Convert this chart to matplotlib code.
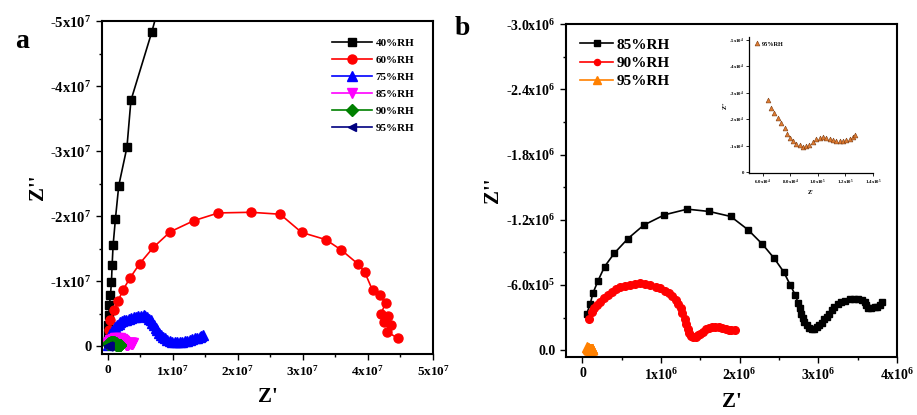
import numpy as np
import matplotlib
matplotlib.use("Agg")
import matplotlib.pyplot as plt
from matplotlib.ticker import FixedLocator, MultipleLocator

plt.rcParams['font.family'] = ['Liberation Serif', 'DejaVu Serif']
plt.rcParams['font.weight'] = 'bold'
plt.rcParams['mathtext.fontset'] = 'custom'
plt.rcParams['mathtext.rm'] = 'Liberation Serif:bold'
plt.rcParams['mathtext.it'] = 'Liberation Serif:bold'
plt.rcParams['mathtext.bf'] = 'Liberation Serif:bold'

# ---- panel a data (units of 1e7 ohm) ----
a40_re = np.array([0.0, 0.0, 0.005, 0.015, 0.025, 0.04, 0.056, 0.066, 0.081, 0.117,
                   0.168, 0.294, 0.355, 0.675, 0.83]) * 1e7
a40_im = np.array([-0.09, -0.19, -0.32, -0.48, -0.63, -0.78, -0.99, -1.245, -1.55, -1.96,
                   -2.47, -3.06, -3.78, -4.83, -5.4]) * 1e7

a60_re = np.array([0.0, 0.015, 0.04, 0.09, 0.157, 0.23, 0.345, 0.49, 0.70, 0.96,
                   1.32, 1.70, 2.20, 2.65, 2.98, 3.35, 3.59, 3.84, 3.95, 4.07,
                   4.18, 4.27, 4.20, 4.31, 4.24, 4.36, 4.30, 4.46]) * 1e7
a60_im = np.array([-0.09, -0.25, -0.40, -0.55, -0.69, -0.86, -1.055, -1.27, -1.52, -1.76,
                   -1.93, -2.05, -2.06, -2.03, -1.75, -1.64, -1.48, -1.27, -1.14, -0.86,
                   -0.78, -0.66, -0.50, -0.47, -0.37, -0.33, -0.22, -0.12]) * 1e7

a75_re = np.array([0.0, 0.02, 0.04, 0.065, 0.09, 0.115, 0.14, 0.165, 0.19, 0.22,
                   0.25, 0.285, 0.32, 0.36, 0.40, 0.435, 0.47, 0.51, 0.55, 0.575,
                   0.60, 0.63, 0.66, 0.685, 0.71, 0.735, 0.76, 0.785, 0.81, 0.845,
                   0.88, 0.915, 0.95, 0.99, 1.03, 1.07, 1.11, 1.145, 1.18, 1.22,
                   1.26, 1.30, 1.34, 1.375, 1.41, 1.44, 1.47]) * 1e7
a75_im = np.array([-0.015, -0.11, -0.19, -0.23, -0.27, -0.295, -0.32, -0.345, -0.37, -0.385,
                   -0.40, -0.41, -0.425, -0.435, -0.45, -0.455, -0.46, -0.47, -0.475, -0.465,
                   -0.45, -0.425, -0.40, -0.36, -0.32, -0.285, -0.25, -0.21, -0.17, -0.145,
                   -0.12, -0.10, -0.08, -0.07, -0.067, -0.067, -0.067, -0.07, -0.077, -0.085,
                   -0.09, -0.105, -0.12, -0.13, -0.14, -0.155, -0.17]) * 1e7

# ---- panel b data (units of 1e6 ohm) ----
b85_re = np.array([0.055, 0.098, 0.132, 0.196, 0.281, 0.404, 0.579, 0.779, 1.043, 1.332,
                   1.609, 1.885, 2.106, 2.289, 2.438, 2.557, 2.643, 2.706, 2.745, 2.765,
                   2.779, 2.80, 2.821, 2.85, 2.885, 2.92, 2.949, 2.98, 3.013, 3.045,
                   3.077, 3.11, 3.140, 3.17, 3.204, 3.245, 3.289, 3.34, 3.396, 3.45,
                   3.502, 3.55, 3.587, 3.61, 3.630, 3.67, 3.715, 3.75, 3.779, 3.809]) * 1e6
b85_im = -np.array([0.338, 0.425, 0.523, 0.637, 0.769, 0.892, 1.028, 1.151, 1.246, 1.298,
                    1.277, 1.231, 1.108, 0.975, 0.846, 0.723, 0.600, 0.508, 0.431, 0.385,
                    0.338, 0.30, 0.262, 0.23, 0.206, 0.198, 0.200, 0.212, 0.231, 0.255,
                    0.283, 0.31, 0.338, 0.37, 0.400, 0.425, 0.440, 0.455, 0.468, 0.472,
                    0.468, 0.458, 0.446, 0.42, 0.385, 0.385, 0.394, 0.40, 0.415, 0.446]) * 1e6

b90_re = np.array([0.089, 0.119, 0.15, 0.183, 0.225, 0.268, 0.32, 0.374, 0.43, 0.481,
                   0.545, 0.609, 0.67, 0.736, 0.80, 0.864, 0.93, 0.991, 1.045, 1.098,
                   1.14, 1.183, 1.215, 1.247, 1.27, 1.298, 1.32, 1.340, 1.36, 1.383,
                   1.41, 1.438, 1.465, 1.494, 1.53, 1.566, 1.61, 1.651, 1.69, 1.736,
                   1.78, 1.821, 1.86, 1.894, 1.936]) * 1e6
b90_im = -np.array([0.292, 0.354, 0.385, 0.415, 0.448, 0.477, 0.51, 0.538, 0.56, 0.578,
                    0.592, 0.600, 0.61, 0.615, 0.61, 0.600, 0.585, 0.569, 0.548, 0.523,
                    0.495, 0.462, 0.425, 0.385, 0.34, 0.292, 0.245, 0.200, 0.16, 0.129,
                    0.118, 0.123, 0.138, 0.154, 0.172, 0.191, 0.205, 0.215, 0.218, 0.215,
                    0.208, 0.200, 0.19, 0.185, 0.185]) * 1e6

# 95%RH (units of 1e4 ohm)
b95_re = np.array([6.36, 6.6, 6.85, 7.09, 7.33, 7.58, 7.77, 7.94, 8.18, 8.42,
                   8.67, 8.91, 9.15, 9.39, 9.64, 9.88, 10.12, 10.36, 10.61, 10.85,
                   11.09, 11.33, 11.58, 11.82, 12.06, 12.30, 12.55, 12.67]) * 1e4
b95_im = -np.array([2.72, 2.43, 2.22, 2.03, 1.84, 1.65, 1.46, 1.29, 1.16, 1.08,
                    1.01, 0.97, 0.99, 1.04, 1.14, 1.24, 1.30, 1.33, 1.29, 1.24,
                    1.20, 1.18, 1.18, 1.19, 1.20, 1.24, 1.33, 1.39]) * 1e4


def sci(m, e):
    return '%sx10$^{%d}$' % (m, e)


a_xticks = [0, 1e7, 2e7, 3e7, 4e7, 5e7]
a_xlabels = ['0'] + [sci(i, 7) for i in range(1, 6)]
a_yticks = [0, -1e7, -2e7, -3e7, -4e7, -5e7]
a_ylabels = ['0'] + [sci(-i, 7) for i in range(1, 6)]

b_xticks = [0, 1e6, 2e6, 3e6, 4e6]
b_xlabels = ['0'] + [sci(i, 6) for i in range(1, 5)]
b_yticks = [0, -6e5, -1.2e6, -1.8e6, -2.4e6, -3.0e6]
b_ylabels = ['0.0', sci('-6.0', 5), sci('-1.2', 6), sci('-1.8', 6), sci('-2.4', 6), sci('-3.0', 6)]

in_xticks = [6e4, 8e4, 1e5, 1.2e5, 1.4e5]
in_xlabels = [sci('6.0', 4), sci('8.0', 4), sci('1.0', 5), sci('1.2', 5), sci('1.4', 5)]
in_yticks = [0, -1e4, -2e4, -3e4, -4e4, -5e4]
in_ylabels = ['0'] + [sci(-i, 4) for i in range(1, 6)]


def style_axes(ax, lw=1.3):
    for s in ax.spines.values():
        s.set_linewidth(lw)
    ax.tick_params(which='both', direction='out', width=1.0)
    ax.tick_params(which='major', length=4)
    ax.tick_params(which='minor', length=2.5)


fig = plt.figure(figsize=(9.17, 4.15), dpi=100)

# ---------------- panel a ----------------
axa = fig.add_axes([0.1112, 0.147, 0.361, 0.802])
axa.plot(a40_re, a40_im, '-s', color='black', ms=5.5, lw=1.2, label='40%RH')
axa.plot(a60_re, a60_im, '-o', color='#ff0000', ms=6.5, lw=1.2, label='60%RH')
axa.plot(a75_re, a75_im, '-^', color='#0000ff', ms=6.5, lw=1.2, label='75%RH')
axa.plot(b85_re, b85_im, '-v', color='#ff00ff', ms=6.5, lw=1.2, label='85%RH')
axa.plot(b90_re, b90_im, '-D', color='#008000', ms=6, lw=1.2, label='90%RH')
axa.plot(b95_re, b95_im, '-<', color='#000080', ms=6, lw=1.2, label='95%RH')
axa.set_xlim(-0.09e7, 5e7)
axa.set_ylim(0.12e7, -5e7)
axa.xaxis.set_major_locator(FixedLocator(a_xticks))
axa.set_xticklabels(a_xlabels, fontsize=9.5, fontweight='bold')
axa.yaxis.set_major_locator(FixedLocator(a_yticks))
axa.set_yticklabels(a_ylabels, fontsize=10.5, fontweight='bold')
axa.xaxis.set_minor_locator(MultipleLocator(0.5e7))
axa.yaxis.set_minor_locator(MultipleLocator(0.5e7))
style_axes(axa, 1.5)
axa.set_xlabel("Z'", fontsize=15, fontweight='bold', labelpad=6)
axa.set_ylabel("Z''", fontsize=15, fontweight='bold', labelpad=2)
axa.legend(loc='upper right', frameon=False, fontsize=8, handlelength=3.6,
           handletextpad=0.3, labelspacing=0.65, borderaxespad=0.4,
           bbox_to_anchor=(0.97, 0.975))
fig.text(0.016, 0.885, 'a', fontsize=20, fontweight='bold')

# ---------------- panel b ----------------
axb = fig.add_axes([0.6172, 0.1398, 0.361, 0.802])
axb.plot(b85_re, b85_im, '-s', color='black', ms=4.8, lw=1.2, label='85%RH')
axb.plot(b90_re, b90_im, '-o', color='#ff0000', ms=5.5, lw=1.2, label='90%RH')
axb.plot(b95_re, b95_im, '-^', color='#ff8000', ms=7, lw=1.2, label='95%RH')
axb.set_xlim(-0.21e6, 4e6)
axb.set_ylim(0.62e5, -3e6)
axb.xaxis.set_major_locator(FixedLocator(b_xticks))
axb.set_xticklabels(b_xlabels, fontsize=10, fontweight='bold')
axb.yaxis.set_major_locator(FixedLocator(b_yticks))
axb.set_yticklabels(b_ylabels, fontsize=10, fontweight='bold')
axb.xaxis.set_minor_locator(MultipleLocator(0.5e6))
axb.yaxis.set_minor_locator(MultipleLocator(3e5))
style_axes(axb, 1.5)
axb.set_xlabel("Z'", fontsize=15, fontweight='bold', labelpad=6)
axb.set_ylabel("Z''", fontsize=15, fontweight='bold', labelpad=2)
axb.legend(loc='upper left', frameon=False, fontsize=11, handlelength=2.2,
           handletextpad=0.2, labelspacing=0.3, borderaxespad=0.5, markerscale=0.8)
fig.text(0.496, 0.915, 'b', fontsize=20, fontweight='bold')

# ---------------- inset ----------------
axi = fig.add_axes([0.8168, 0.583, 0.1352, 0.328])
axi.plot(b95_re, b95_im, '^', color='#e07b30', mec='#7a3a10', mew=0.4, ms=3.5,
         ls='none', label='95%RH')
axi.set_xlim(5e4, 1.4e5)
axi.set_ylim(0.03e4, -5.1e4)
axi.xaxis.set_major_locator(FixedLocator(in_xticks))
axi.set_xticklabels(in_xlabels, fontsize=3.5, fontweight='bold')
axi.yaxis.set_major_locator(FixedLocator(in_yticks))
axi.set_yticklabels(in_ylabels, fontsize=3.5, fontweight='bold')
axi.spines['top'].set_visible(False)
axi.spines['right'].set_visible(False)
for s in ('left', 'bottom'):
    axi.spines[s].set_linewidth(0.9)
axi.tick_params(which='both', direction='out', width=0.6, length=2, pad=1.5)
axi.set_xlabel("Z'", fontsize=4.5, fontweight='bold', labelpad=2)
axi.set_ylabel("Z''", fontsize=4.5, fontweight='bold', labelpad=1)
axi.legend(loc='upper left', frameon=False, fontsize=4.5, handlelength=1,
           handletextpad=0.4, borderaxespad=0.3)

fig.savefig('out.png', dpi=100)
